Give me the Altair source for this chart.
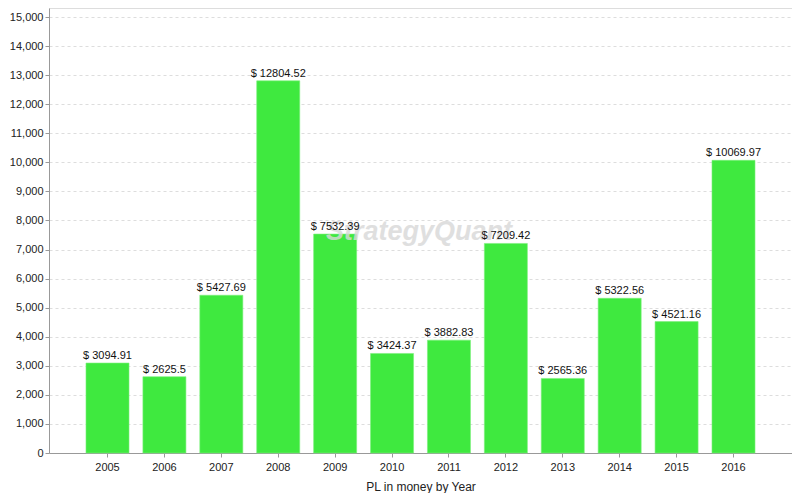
import altair as alt
import pandas as pd

years = ["2005", "2006", "2007", "2008", "2009", "2010", "2011", "2012", "2013", "2014", "2015", "2016"]
profits = [3094.91, 2625.5, 5427.69, 12804.52, 7532.39, 3424.37, 3882.83, 7209.42, 2565.36, 5322.56, 4521.16, 10069.97]
y_ticks = list(range(0, 15001, 1000))

df = pd.DataFrame({"year": years, "pl": profits})
df["label"] = ["$ " + (f"{v:.2f}".rstrip("0").rstrip(".")) for v in profits]

FONT = "Liberation Sans"

x_enc = alt.X(
    "year:N",
    title="PL in money by Year",
    scale=alt.Scale(paddingInner=0.244, paddingOuter=0.65),
    axis=alt.Axis(
        labelAngle=0, labelFontSize=11, labelColor="#222", labelFont=FONT,
        titleFont=FONT, titleFontSize=12, titleFontWeight="normal", titleColor="#222",
        titlePadding=9, tickSize=4, tickColor="#999", domainColor="#999",
        labelPadding=4, grid=False,
    ),
)
y_enc = alt.Y(
    "pl:Q",
    title=None,
    scale=alt.Scale(domain=[0, 15310], nice=False, zero=True),
    axis=alt.Axis(
        values=y_ticks, tickCount=16, format=",d", labelFontSize=11, labelColor="#222", labelFont=FONT,
        labelOverlap=False, labelFlush=False,
        tickSize=4, tickColor="#999", domainColor="#999", labelPadding=2,
        grid=True, gridColor="#dddddd", gridDash=[3, 3], gridWidth=1,
    ),
)

base = alt.Chart(df).encode(x=x_enc, y=y_enc)

bars = base.mark_bar(color="#3FE93F", stroke="#7cf07c", strokeWidth=0.6)

labels = base.mark_text(
    dy=-2, fontSize=11, font=FONT, color="#111", baseline="bottom", align="center"
).encode(text="label:N")

wm_df = pd.DataFrame({"t": ["StrategyQuant"]})
watermark = alt.Chart(wm_df).mark_text(
    fontSize=27, font=FONT, fontWeight="bold", fontStyle="italic", color="#d8d8d8",
    opacity=0.8, align="center", baseline="middle",
).encode(x=alt.value(370), y=alt.value(224), text="t:N")

chart = alt.layer(bars, watermark, labels).properties(
    width=743, height=445,
    autosize=alt.AutoSizeParams(type="none"),
    padding={"left": 41, "top": 0, "right": 0, "bottom": 40},
).configure_view(stroke="#b5b5b5", strokeWidth=1).configure(background="white")

chart.save("out.html", embed_options={"renderer": "svg", "actions": False})
